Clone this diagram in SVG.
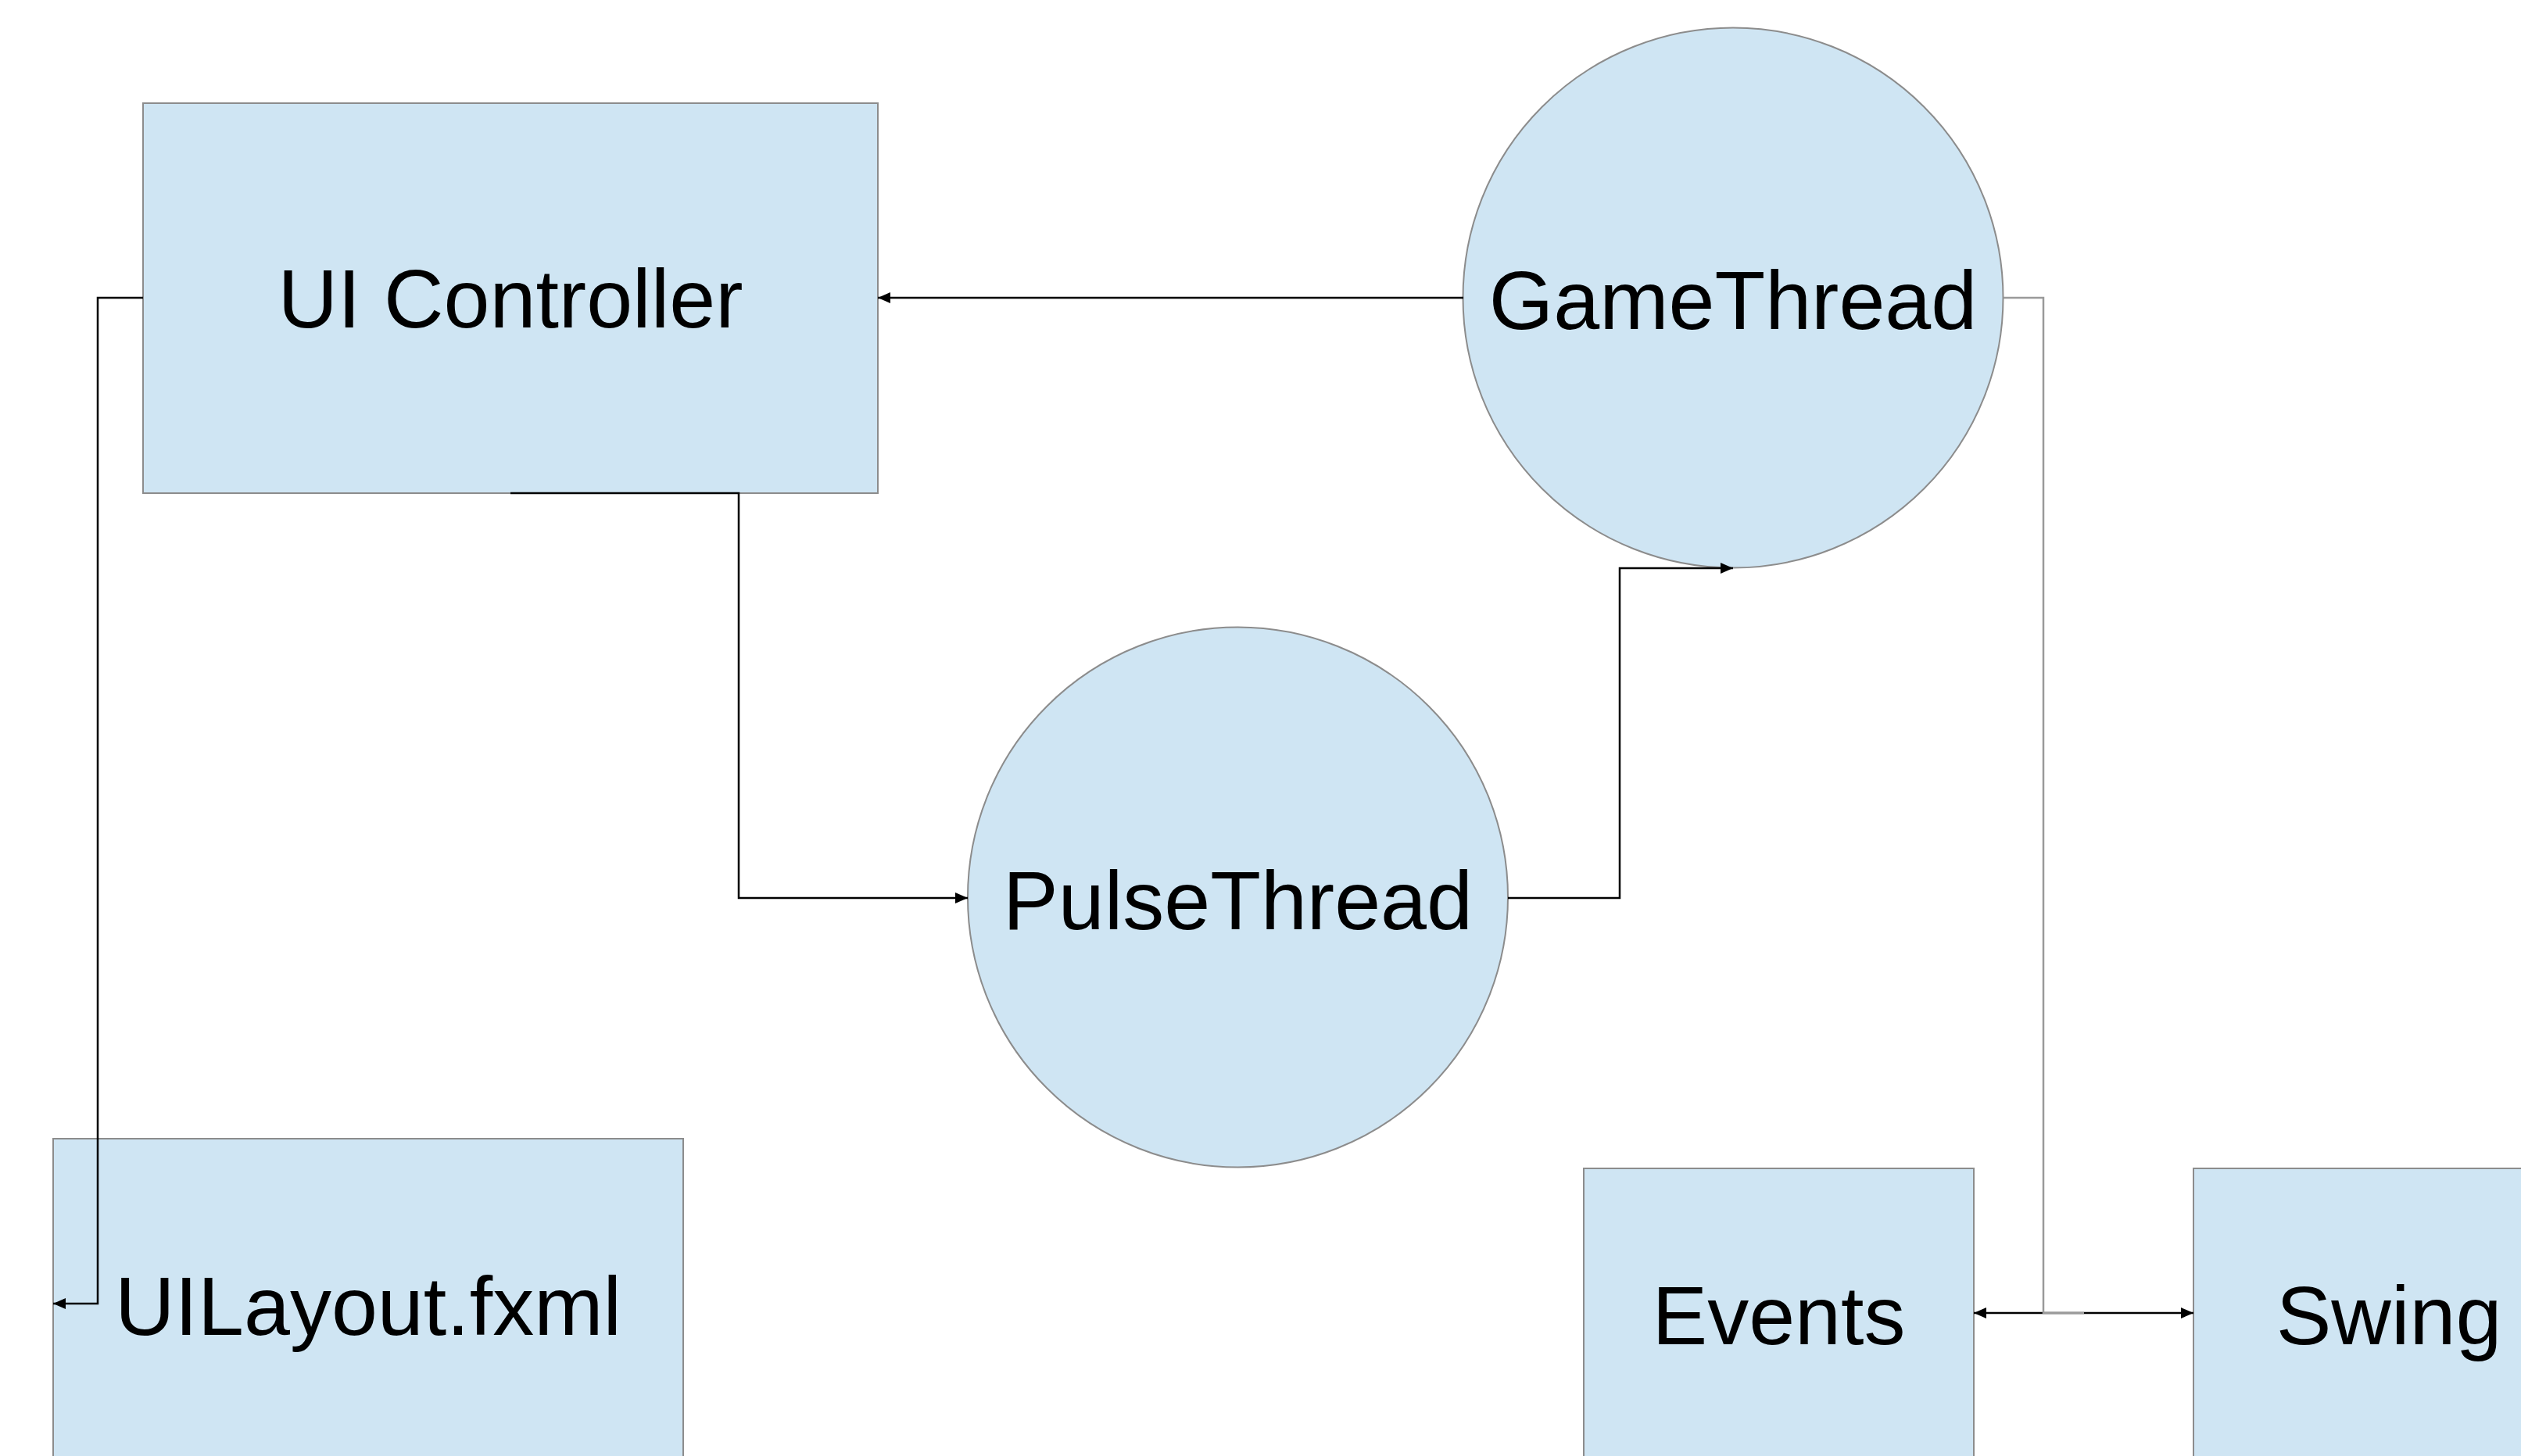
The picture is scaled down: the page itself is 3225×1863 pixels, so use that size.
<svg xmlns="http://www.w3.org/2000/svg" width="3225" height="1863" viewBox="0 0 3225 1863">
<style>
.node{fill:#cfe5f3;stroke:#8c8c8c;stroke-width:2}
.lbl{font-family:"Liberation Sans",Arial,sans-serif;font-size:106px;fill:#000;text-anchor:middle}
.edge{fill:none;stroke:#000;stroke-width:2.5}
.gedge{fill:none;stroke:#9a9a9a;stroke-width:2.5}
</style>
<defs>
<marker id="ah" viewBox="0 0 16 14" refX="16" refY="7" markerWidth="16" markerHeight="14" markerUnits="userSpaceOnUse" orient="auto-start-reverse">
<path d="M0,0 L16,7 L0,14 Z" fill="#000"/>
</marker>
</defs>
<rect width="3225" height="1863" fill="#fff"/>
<g id="ui-controller"><rect class="node" x="183" y="132" width="940" height="499"/><text class="lbl" x="653" y="419">UI Controller</text></g>
<g id="gamethread"><circle class="node" cx="2217" cy="381" r="345.5"/><text class="lbl" x="2217" y="421">GameThread</text></g>
<g id="pulsethread"><circle class="node" cx="1583.5" cy="1148" r="345.5"/><text class="lbl" x="1583.5" y="1189">PulseThread</text></g>
<g id="uilayout"><rect class="node" x="68" y="1457" width="806" height="430"/><text class="lbl" x="471" y="1708">UILayout.fxml</text></g>
<g id="events"><rect class="node" x="2026" y="1495" width="499" height="400"/><text class="lbl" x="2275.5" y="1720">Events</text></g>
<g id="swing"><rect class="node" x="2806" y="1495" width="500" height="400"/><text class="lbl" x="3056" y="1720">Swing</text></g>
<g id="connectors">
<path class="edge" d="M1872,381 L1123,381" marker-end="url(#ah)"/>
<path class="edge" d="M653,631 L945,631 L945,1149 L1238,1149" marker-end="url(#ah)"/>
<path class="edge" d="M1929,1149 L2072,1149 L2072,727 L2217,727" marker-end="url(#ah)"/>
<path class="edge" d="M183,381 L125,381 L125,1668 L68,1668" marker-end="url(#ah)"/>
<path class="edge" d="M2525,1680 L2806,1680" marker-start="url(#ah)" marker-end="url(#ah)"/>
<path class="gedge" d="M2563,381 L2614,381 L2614,1680 L2666,1680"/>
</g>
</svg>
